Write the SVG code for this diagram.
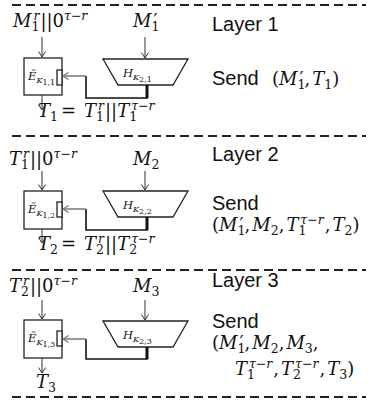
<svg xmlns="http://www.w3.org/2000/svg" width="375" height="401" viewBox="0 0 375 401">
<defs>
<marker id="ah" markerUnits="userSpaceOnUse" markerWidth="8" markerHeight="10" refX="6" refY="4" orient="auto">
<path d="M0.5,0.5 L6,4 L0.5,7.5" fill="none" stroke="#333" stroke-width="1"/>
</marker>
<marker id="ahg" markerUnits="userSpaceOnUse" markerWidth="8" markerHeight="10" refX="6" refY="4" orient="auto">
<path d="M0.5,0.5 L6,4 L0.5,7.5" fill="none" stroke="#777" stroke-width="1.2"/>
</marker>
</defs>
<style>
.dash{stroke:#222;stroke-width:2;stroke-dasharray:9,5;fill:none}
.box{fill:#fff;stroke:#222;stroke-width:1.3}
.ar{stroke:#333;stroke-width:1;fill:none;marker-end:url(#ah)}
.fb{stroke:#777;stroke-width:1.5;fill:none;marker-end:url(#ahg)}
.ln{stroke:#111;stroke-width:1.6;fill:none}
.thick{stroke:#111;stroke-width:3;fill:none}
.m{font-family:"DejaVu Serif","Liberation Serif",serif;font-size:18px;font-style:italic;fill:#111}
.s{font-size:12.5px}
.n{font-style:normal}
.lb{font-family:"DejaVu Serif","Liberation Serif",serif;font-size:11.5px;font-style:italic;fill:#111}
.lbs{font-size:8px}
.t{font-family:"Liberation Sans",Arial,sans-serif;font-size:20px;fill:#111}
</style>

<g id="separators">
<line class="dash" x1="12" y1="5" x2="366" y2="5"/>
<line class="dash" x1="12" y1="136" x2="366" y2="136"/>
<line class="dash" x1="12" y1="270" x2="366" y2="270"/>
<line class="dash" x1="12" y1="397" x2="366" y2="397"/>
</g>

<!-- Layer 1 -->
<g id="in-1"><text class="m" x="13" y="27">M<tspan class="s n" dy="4">1</tspan><tspan class="s" dx="-6" dy="-11">r</tspan><tspan class="n" dx="1" dy="7">||0</tspan><tspan class="s" dy="-7">τ−r</tspan></text></g>
<g id="msg-1"><text class="m" x="133" y="27">M<tspan class="s n" dy="4">1</tspan><tspan class="n" dx="-6" dy="-4">′</tspan></text></g>
<g id="E-1"><rect class="box" x="24" y="58" width="38" height="37"/><rect class="box" x="57" y="70" width="5" height="15"/><text class="lb" x="28" y="80">Ẽ<tspan class="lbs" dy="3">K</tspan><tspan class="lbs n" font-size="6.5" dy="2">1,1</tspan></text></g>
<g id="H-1"><polygon class="box" points="103,59 188,59 173,85 118,85"/><text class="lb" x="123" y="77">H<tspan class="lbs" dy="3">K</tspan><tspan class="lbs n" font-size="6.5" dy="2">2,1</tspan></text></g>
<g id="out-1"><text class="m" x="38" y="117">T<tspan class="s n" dy="4">1</tspan><tspan class="n" dx="3" dy="-4">=</tspan><tspan dx="8">T</tspan><tspan class="s n" dy="4">1</tspan><tspan class="s" dx="-6" dy="-11">r</tspan><tspan class="n" dx="1" dy="7">||</tspan>T<tspan class="s n" dy="4">1</tspan><tspan class="s" dx="-6" dy="-11">τ−r</tspan></text></g>
<g id="label-1"><text class="t" x="212" y="31">Layer 1</text><text class="t" x="212" y="85">Send</text><text class="m" x="272" y="85"><tspan class="n">(</tspan>M<tspan class="s n" dy="4">1</tspan><tspan class="n" dx="-6" dy="-4">′</tspan><tspan class="n" dx="1">,</tspan><tspan dx="2">T</tspan><tspan class="s n" dy="4">1</tspan><tspan class="n" dy="-4">)</tspan></text></g>

<!-- Layer 2 -->
<g id="in-2"><text class="m" x="9" y="165">T<tspan class="s n" dy="4">1</tspan><tspan class="s" dx="-6" dy="-11">r</tspan><tspan class="n" dx="1" dy="7">||0</tspan><tspan class="s" dy="-7">τ−r</tspan></text></g>
<g id="msg-2"><text class="m" x="133" y="165">M<tspan class="s n" dy="4">2</tspan></text></g>
<g id="E-2"><rect class="box" x="24" y="191" width="38" height="38"/><rect class="box" x="57" y="202" width="5" height="15"/><text class="lb" x="28" y="213">Ẽ<tspan class="lbs" dy="3">K</tspan><tspan class="lbs n" font-size="6.5" dy="2">1,2</tspan></text></g>
<g id="H-2"><polygon class="box" points="103,191 188,191 173,217 118,217"/><text class="lb" x="123" y="209">H<tspan class="lbs" dy="3">K</tspan><tspan class="lbs n" font-size="6.5" dy="2">2,2</tspan></text></g>
<g id="out-2"><text class="m" x="38" y="250">T<tspan class="s n" dy="4">2</tspan><tspan class="n" dx="3" dy="-4">=</tspan><tspan dx="8">T</tspan><tspan class="s n" dy="4">2</tspan><tspan class="s" dx="-6" dy="-11">r</tspan><tspan class="n" dx="1" dy="7">||</tspan>T<tspan class="s n" dy="4">2</tspan><tspan class="s" dx="-6" dy="-11">τ−r</tspan></text></g>
<g id="label-2"><text class="t" x="212" y="161">Layer 2</text><text class="t" x="212" y="210">Send</text><text class="m" x="212" y="231"><tspan class="n">(</tspan>M<tspan class="s n" dy="4">1</tspan><tspan class="n" dx="-6" dy="-4">′</tspan><tspan class="n" dx="1">,</tspan><tspan dx="2">M</tspan><tspan class="s n" dy="4">2</tspan><tspan class="n" dy="-4">,</tspan><tspan dx="2">T</tspan><tspan class="s n" dy="4">1</tspan><tspan class="s" dx="-6" dy="-11">τ−r</tspan><tspan class="n" dx="1" dy="7">,</tspan><tspan dx="2">T</tspan><tspan class="s n" dy="4">2</tspan><tspan class="n" dy="-4">)</tspan></text></g>

<!-- Layer 3 -->
<g id="in-3"><text class="m" x="9" y="292">T<tspan class="s n" dy="4">2</tspan><tspan class="s" dx="-6" dy="-11">r</tspan><tspan class="n" dx="1" dy="7">||0</tspan><tspan class="s" dy="-7">τ−r</tspan></text></g>
<g id="msg-3"><text class="m" x="133" y="292">M<tspan class="s n" dy="4">3</tspan></text></g>
<g id="E-3"><rect class="box" x="24" y="320" width="38" height="38"/><rect class="box" x="57" y="331" width="5" height="15"/><text class="lb" x="28" y="342">Ẽ<tspan class="lbs" dy="3">K</tspan><tspan class="lbs n" font-size="6.5" dy="2">1,3</tspan></text></g>
<g id="H-3"><polygon class="box" points="103,321 188,321 173,347 118,347"/><text class="lb" x="123" y="339">H<tspan class="lbs" dy="3">K</tspan><tspan class="lbs n" font-size="6.5" dy="2">2,3</tspan></text></g>
<g id="out-3"><text class="m" x="36" y="388">T<tspan class="s n" dy="4">3</tspan></text></g>
<g id="label-3"><text class="t" x="212" y="287">Layer 3</text><text class="t" x="212" y="328">Send</text><text class="m" x="212" y="349"><tspan class="n">(</tspan>M<tspan class="s n" dy="4">1</tspan><tspan class="n" dx="-6" dy="-4">′</tspan><tspan class="n" dx="1">,</tspan><tspan dx="2">M</tspan><tspan class="s n" dy="4">2</tspan><tspan class="n" dy="-4">,</tspan><tspan dx="2">M</tspan><tspan class="s n" dy="4">3</tspan><tspan class="n" dy="-4">,</tspan></text><text class="m" x="235" y="375">T<tspan class="s n" dy="4">1</tspan><tspan class="s" dx="-6" dy="-11">τ−r</tspan><tspan class="n" dx="1" dy="7">,</tspan><tspan dx="2">T</tspan><tspan class="s n" dy="4">2</tspan><tspan class="s" dx="-6" dy="-11">τ−r</tspan><tspan class="n" dx="1" dy="7">,</tspan><tspan dx="2">T</tspan><tspan class="s n" dy="4">3</tspan><tspan class="n" dy="-4">)</tspan></text></g>

<g id="connectors">
<line class="ar" x1="42" y1="37" x2="42" y2="57"/>
<line class="ar" x1="145" y1="37" x2="145" y2="58"/>
<line class="thick" x1="147" y1="85" x2="147" y2="98"/>
<polyline class="ln" points="148,98 86,98 86,76"/>
<line class="fb" x1="86" y1="76" x2="63" y2="76"/>
<line class="ar" x1="42" y1="95" x2="42" y2="110"/>

<line class="ar" x1="42" y1="171" x2="42" y2="190"/>
<line class="ar" x1="145" y1="171" x2="145" y2="190"/>
<line class="thick" x1="147" y1="217" x2="147" y2="230"/>
<polyline class="ln" points="148,230 86,230 86,209"/>
<line class="fb" x1="86" y1="209" x2="63" y2="209"/>
<line class="ar" x1="42" y1="229" x2="42" y2="243"/>

<line class="ar" x1="42" y1="300" x2="42" y2="319"/>
<line class="ar" x1="145" y1="300" x2="145" y2="320"/>
<line class="thick" x1="147" y1="347" x2="147" y2="359"/>
<polyline class="ln" points="148,359 86,359 86,339"/>
<line class="fb" x1="86" y1="339" x2="63" y2="339"/>
<line class="ar" x1="42" y1="358" x2="42" y2="373"/>
</g>
</svg>
